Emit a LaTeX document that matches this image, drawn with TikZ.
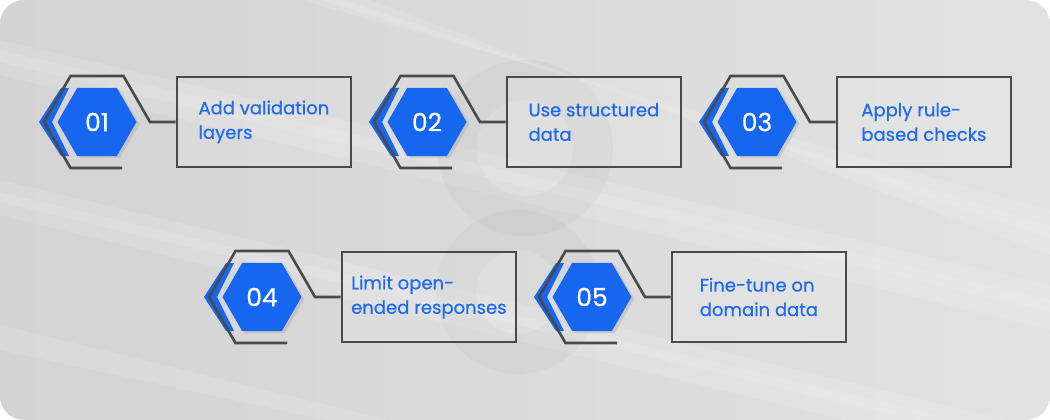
\documentclass[tikz,border=0pt]{standalone}
\usepackage{fontspec}
\setmainfont{Poppins}
\newfontfamily\stepfont[FakeBold=0.6]{Poppins}
\usetikzlibrary{positioning,shapes.geometric,shadows}

\definecolor{itemblue}{HTML}{1766F0}
\definecolor{textblue}{HTML}{1F6BEA}
\definecolor{framegray}{HTML}{4A4A4A}
\definecolor{bglight}{HTML}{E2E2E2}
\definecolor{bgdark}{HTML}{D3D3D3}

\begin{document}
\begin{tikzpicture}[x=1pt,y=-1pt,
  hexnum/.style={regular polygon,regular polygon sides=6,minimum size=79pt,inner sep=0pt,
    fill=itemblue,text=white,font=\stepfont\fontsize{25}{27}\selectfont,
    drop shadow={opacity=.22,shadow xshift=3pt,shadow yshift=-2pt}},
  chevron/.style={fill=itemblue},
  frameline/.style={draw=framegray,line width=2.6pt},
  itembox/.style={draw=framegray,line width=2.8pt,fill=white,fill opacity=.12,text opacity=1,
    minimum width=174pt,minimum height=90pt,inner sep=0pt,align=left,text=textblue,
    font=\stepfont\fontsize{18}{24.5}\selectfont},
  streak/.style={white,opacity=.13}]
\useasboundingbox (0,0) rectangle (1050,420);
% background card
\fill[white] (0,0) rectangle (1050,420);
\begin{scope}
\clip[rounded corners=24pt] (0,0) rectangle (1050,420);
\shade[left color=bgdark,right color=bglight] (0,0) rectangle (1050,420);
\fill[streak] (0,40) -- (0,75) -- (1050,330) -- (1050,285) -- cycle;
\fill[streak] (0,50) -- (0,62) -- (1050,312) -- (1050,300) -- cycle;
\fill[streak] (0,180) -- (0,215) -- (1050,470) -- (1050,430) -- cycle;
\fill[streak] (0,192) -- (0,202) -- (1050,452) -- (1050,442) -- cycle;
\fill[streak] (300,0) -- (370,0) -- (1050,255) -- (1050,210) -- cycle;
\fill[streak] (320,0) -- (345,0) -- (1050,238) -- (1050,226) -- cycle;
\fill[streak] (0,325) -- (0,350) -- (420,440) -- (470,440) -- cycle;
% faint logo mark
\draw[black,opacity=.025,line width=40pt] (525,148) circle (68);
\draw[black,opacity=.025,line width=40pt] (518,292) circle (62);
\end{scope}
% steps
\foreach \n/\cx/\cy/\txt in {01/97/122/{Add validation\\layers},
    02/427/122/{Use structured\\data},
    03/757/122/{Apply rule-\\based checks},
    04/262/297/{Limit open-\\ended responses},
    05/592/297/{Fine-tune on\\domain data}}{
  \node[hexnum] (hex\n) at (\cx,\cy) {\n};
  \node[itembox,anchor=west] (box\n) at (\cx+78.5,\cy) {\txt};
  \fill[chevron] ([shift={(-36,-34)}]hex\n.center) -- ++(8,0) -- ++(-17,34) -- ++(17,34)
    -- ++(-8,0) -- ++(-22,-34) -- cycle;
  \draw[frameline] ([shift={(25,46)}]hex\n.center) -- ++(-51.5,0) -- ++(-26.5,-46)
    -- ++(26.5,-46) -- ++(53,0) -- ++(26.5,46) -- (box\n.west);
}
\end{tikzpicture}
\end{document}
